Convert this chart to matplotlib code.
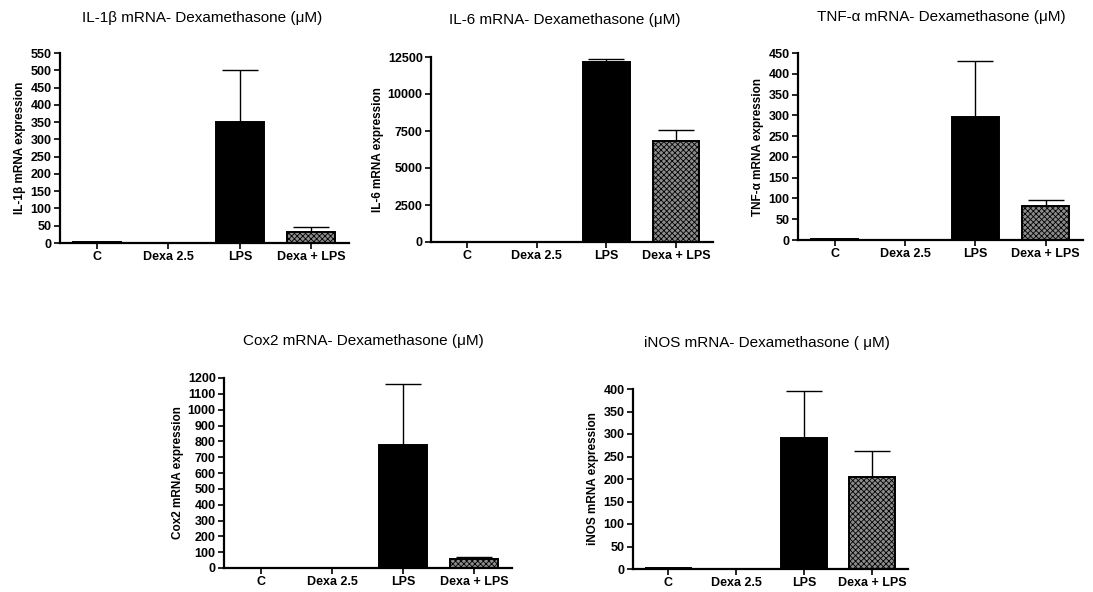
import matplotlib
matplotlib.use('agg')
import matplotlib.pyplot as plt

plt.rcParams['font.family'] = ['Liberation Sans', 'DejaVu Sans']
plt.rcParams['hatch.linewidth'] = 0.6
plt.rcParams['hatch.color'] = '#2a2a2a'

# Datos
grupos = ['C', 'Dexa 2.5', 'LPS', 'Dexa + LPS']

il1b_media = [3, 0.5, 350, 32]
il1b_err = [0, 0, 150, 15]

il6_media = [5, 5, 12150, 6800]
il6_err = [0, 0, 200, 800]

tnf_media = [3, 0.5, 297, 83]
tnf_err = [0, 0, 133, 13]

cox2_media = [1, 1, 775, 55]
cox2_err = [0, 0, 390, 13]

inos_media = [3, 0.5, 292, 205]
inos_err = [0, 0, 103, 57]

titulos = ['IL-1β mRNA- Dexamethasone (μM)', 'IL-6 mRNA- Dexamethasone (μM)',
           'TNF-α mRNA- Dexamethasone (μM)', 'Cox2 mRNA- Dexamethasone (μM)',
           'iNOS mRNA- Dexamethasone ( μM)']
etiquetas_y = ['IL-1β mRNA expression', 'IL-6 mRNA expression', 'TNF-α mRNA expression',
               'Cox2 mRNA expression', 'iNOS mRNA expression']
limites_y = [550, 12500, 450, 1200, 400]
pasos_y = [50, 2500, 50, 100, 50]

W, H = 1093, 592

# Posiciones en pixeles: (izq, der, arriba, abajo) y centro del titulo
cajas = [(60, 349, 53, 243), (431, 713, 57, 242), (798, 1083, 53, 240),
         (224, 512, 378, 568), (633, 908, 389, 569)]
pos_titulos = [(202, 18), (565, 20), (941, 17), (363, 341), (767, 343)]

datos = [(il1b_media, il1b_err), (il6_media, il6_err), (tnf_media, tnf_err),
         (cox2_media, cox2_err), (inos_media, inos_err)]

fig = plt.figure(figsize=(W / 100, H / 100), dpi=100)

for i, (medias, errores) in enumerate(datos):
    l, r, t, b = cajas[i]
    ax = fig.add_axes([l / W, 1 - b / H, (r - l) / W, (b - t) / H])
    x = list(range(len(grupos)))
    colores = ['black', 'black', 'black', '#8c8c8c']
    barras = ax.bar(x, medias, width=0.67, color=colores, edgecolor='black', linewidth=1.4,
                    zorder=2)
    barras[3].set_hatch('xxxxxx')
    ax.errorbar(x, medias, yerr=[[0] * 4, errores], fmt='none', ecolor='black',
                elinewidth=1.0, capsize=13, capthick=1.0, zorder=1)
    ax.set_xlim(-0.52, 3.53)
    ax.set_ylim(0, limites_y[i])
    ticks = list(range(0, limites_y[i] + 1, pasos_y[i]))
    ax.set_yticks(ticks)
    ax.set_xticks(x)
    ax.set_xticklabels(grupos, fontsize=9, fontweight='bold')
    for lab in ax.get_yticklabels():
        lab.set_fontsize(9)
        lab.set_fontweight('bold')
    ax.set_ylabel(etiquetas_y[i], fontsize=8.5, fontweight='bold', labelpad=3)
    for lado in ['top', 'right']:
        ax.spines[lado].set_visible(False)
    for lado in ['left', 'bottom']:
        ax.spines[lado].set_linewidth(1.6)
    ax.tick_params(axis='both', direction='out', length=4, width=1.2, pad=2)
    cx, cy = pos_titulos[i]
    fig.text(cx / W, 1 - cy / H, titulos[i], ha='center', va='center', fontsize=11)

plt.savefig('out.png', dpi=100)
